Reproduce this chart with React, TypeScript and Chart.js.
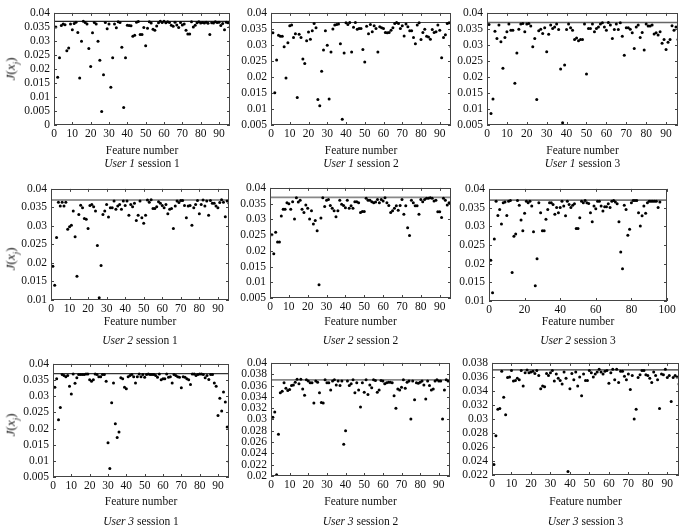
import React, { useEffect, useRef } from "react";
import { Chart, registerables } from "chart.js";

Chart.register(...registerables);

// ---------------- data ----------------
const thresholdJ = 0.037;

const user1Session1 = [
  0.0350, 0.0170, 0.0240, 0.0355, 0.0360, 0.0358, 0.0265, 0.0275, 0.0360, 0.0340,
  0.0362, 0.0367, 0.0330, 0.0168, 0.0299, 0.0370, 0.0366, 0.0360, 0.0273, 0.0209,
  0.0329, 0.0366, 0.0360, 0.0299, 0.0231, 0.0048, 0.0179, 0.0366, 0.0343, 0.0360,
  0.0135, 0.0240, 0.0360, 0.0347, 0.0368, 0.0366, 0.0277, 0.0062, 0.0240, 0.0356,
  0.0355, 0.0354, 0.0317, 0.0320, 0.0367, 0.0369, 0.0323, 0.0323, 0.0348, 0.0283,
  0.0345, 0.0368, 0.0364, 0.0342, 0.0338, 0.0353, 0.0365, 0.0370, 0.0366, 0.0370,
  0.0365, 0.0368, 0.0366, 0.0356, 0.0352, 0.0367, 0.0357, 0.0348, 0.0366, 0.0357,
  0.0360, 0.0338, 0.0325, 0.0325, 0.0368, 0.0350, 0.0356, 0.0365, 0.0368, 0.0364,
  0.0366, 0.0364, 0.0367, 0.0363, 0.0323, 0.0365, 0.0364, 0.0368, 0.0366, 0.0367,
  0.0355, 0.0362, 0.0340, 0.0367, 0.0365, 0.0350,
];

const user1Session2 = [
  0.0338, 0.0151, 0.0253, 0.0330, 0.0327, 0.0327, 0.0294, 0.0197, 0.0307, 0.0360,
  0.0362, 0.0323, 0.0335, 0.0136, 0.0333, 0.0323, 0.0256, 0.0242, 0.0313, 0.0340,
  0.0318, 0.0344, 0.0367, 0.0354, 0.0130, 0.0110, 0.0218, 0.0284, 0.0344, 0.0299,
  0.0131, 0.0278, 0.0350, 0.0362, 0.0364, 0.0365, 0.0304, 0.0068, 0.0275, 0.0369,
  0.0364, 0.0370, 0.0278, 0.0355, 0.0370, 0.0349, 0.0351, 0.0351, 0.0286, 0.0247,
  0.0358, 0.0335, 0.0364, 0.0341, 0.0360, 0.0351, 0.0278, 0.0357, 0.0354, 0.0351,
  0.0339, 0.0338, 0.0339, 0.0346, 0.0354, 0.0367, 0.0370, 0.0367, 0.0351, 0.0360,
  0.0328, 0.0365, 0.0357, 0.0344, 0.0344, 0.0323, 0.0304, 0.0362, 0.0369, 0.0317,
  0.0339, 0.0349, 0.0327, 0.0325, 0.0318, 0.0348, 0.0339, 0.0341, 0.0362, 0.0346,
  0.0260, 0.0323, 0.0332, 0.0367, 0.0369, 0.0294,
];

const user1Session3 = [
  0.0364, 0.0086, 0.0131, 0.0343, 0.0320, 0.0362, 0.0310, 0.0227, 0.0323, 0.0341,
  0.0365, 0.0346, 0.0346, 0.0180, 0.0275, 0.0349, 0.0365, 0.0367, 0.0341, 0.0365,
  0.0367, 0.0359, 0.0294, 0.0320, 0.0130, 0.0344, 0.0349, 0.0336, 0.0354, 0.0279,
  0.0333, 0.0362, 0.0351, 0.0356, 0.0365, 0.0348, 0.0225, 0.0057, 0.0237, 0.0348,
  0.0365, 0.0354, 0.0346, 0.0317, 0.0322, 0.0313, 0.0317, 0.0317, 0.0365, 0.0209,
  0.0351, 0.0351, 0.0365, 0.0341, 0.0351, 0.0356, 0.0365, 0.0369, 0.0356, 0.0346,
  0.0370, 0.0362, 0.0320, 0.0348, 0.0365, 0.0348, 0.0369, 0.0327, 0.0268, 0.0354,
  0.0354, 0.0349, 0.0338, 0.0289, 0.0356, 0.0362, 0.0323, 0.0339, 0.0284, 0.0365,
  0.0359, 0.0359, 0.0362, 0.0334, 0.0338, 0.0331, 0.0341, 0.0305, 0.0317, 0.0286,
  0.0308, 0.0317, 0.0360, 0.0346, 0.0356, 0.0317,
];

const user2Session1 = [
  0.0191, 0.0140, 0.0269, 0.0364, 0.0354, 0.0364, 0.0354, 0.0364, 0.0291, 0.0298,
  0.0302, 0.0340, 0.0271, 0.0164, 0.0331, 0.0356, 0.0349, 0.0320, 0.0318, 0.0293,
  0.0355, 0.0358, 0.0352, 0.0340, 0.0247, 0.0106, 0.0193, 0.0331, 0.0340, 0.0358,
  0.0324, 0.0349, 0.0349, 0.0367, 0.0345, 0.0354, 0.0358, 0.0345, 0.0367, 0.0355,
  0.0367, 0.0329, 0.0358, 0.0352, 0.0361, 0.0315, 0.0329, 0.0367, 0.0322, 0.0307,
  0.0329, 0.0370, 0.0364, 0.0371, 0.0347, 0.0347, 0.0352, 0.0365, 0.0361, 0.0355,
  0.0349, 0.0358, 0.0333, 0.0345, 0.0347, 0.0293, 0.0354, 0.0367, 0.0363, 0.0369,
  0.0369, 0.0355, 0.0322, 0.0354, 0.0355, 0.0302, 0.0349, 0.0358, 0.0369, 0.0333,
  0.0358, 0.0370, 0.0354, 0.0367, 0.0329, 0.0369, 0.0361, 0.0361, 0.0354, 0.0349,
  0.0363, 0.0371, 0.0364, 0.0325, 0.0367, 0.0361,
];

const user2Session2 = [
  0.0251, 0.0191, 0.0259, 0.0228, 0.0228, 0.0311, 0.0332, 0.0332, 0.0353, 0.0350,
  0.0332, 0.0356, 0.0301, 0.0369, 0.0355, 0.0361, 0.0332, 0.0322, 0.0346, 0.0335,
  0.0301, 0.0327, 0.0285, 0.0296, 0.0264, 0.0092, 0.0304, 0.0369, 0.0341, 0.0361,
  0.0363, 0.0344, 0.0335, 0.0327, 0.0308, 0.0327, 0.0361, 0.0348, 0.0344, 0.0337,
  0.0361, 0.0335, 0.0343, 0.0335, 0.0356, 0.0356, 0.0353, 0.0322, 0.0325, 0.0325,
  0.0367, 0.0361, 0.0361, 0.0356, 0.0353, 0.0355, 0.0363, 0.0353, 0.0363, 0.0358,
  0.0369, 0.0353, 0.0344, 0.0322, 0.0327, 0.0335, 0.0343, 0.0329, 0.0344, 0.0363,
  0.0316, 0.0343, 0.0273, 0.0249, 0.0361, 0.0353, 0.0343, 0.0343, 0.0316, 0.0363,
  0.0356, 0.0363, 0.0367, 0.0367, 0.0369, 0.0367, 0.0358, 0.0361, 0.0324, 0.0324,
  0.0306, 0.0367, 0.0361, 0.0346, 0.0353, 0.0353,
];

const user2Session3 = [
  0.0209, 0.0122, 0.0266, 0.0367, 0.0329, 0.0345, 0.0306, 0.0363, 0.0365, 0.0329,
  0.0367, 0.0369, 0.0176, 0.0273, 0.0279, 0.0369, 0.0356, 0.0317, 0.0288, 0.0335,
  0.0367, 0.0363, 0.0367, 0.0354, 0.0285, 0.0141, 0.0213, 0.0363, 0.0336, 0.0288,
  0.0288, 0.0319, 0.0345, 0.0363, 0.0363, 0.0358, 0.0332, 0.0350, 0.0336, 0.0350,
  0.0367, 0.0354, 0.0328, 0.0367, 0.0358, 0.0350, 0.0356, 0.0360, 0.0294, 0.0294,
  0.0323, 0.0367, 0.0363, 0.0369, 0.0363, 0.0361, 0.0336, 0.0312, 0.0354, 0.0347,
  0.0367, 0.0367, 0.0354, 0.0341, 0.0352, 0.0352, 0.0360, 0.0350, 0.0367, 0.0369,
  0.0365, 0.0360, 0.0312, 0.0231, 0.0186, 0.0356, 0.0345, 0.0276, 0.0292, 0.0363,
  0.0369, 0.0369, 0.0369, 0.0336, 0.0301, 0.0328, 0.0354, 0.0335, 0.0363, 0.0367,
  0.0367, 0.0367, 0.0367, 0.0367, 0.0350, 0.0365,
];

const user3Session1 = [
  0.0328, 0.0354, 0.0227, 0.0265, 0.0367, 0.0364, 0.0360, 0.0364, 0.0331, 0.0307,
  0.0369, 0.0340, 0.0357, 0.0367, 0.0367, 0.0367, 0.0367, 0.0369, 0.0369, 0.0351,
  0.0346, 0.0351, 0.0369, 0.0367, 0.0360, 0.0360, 0.0367, 0.0367, 0.0346, 0.0156,
  0.0076, 0.0280, 0.0341, 0.0215, 0.0172, 0.0189, 0.0357, 0.0354, 0.0328, 0.0323,
  0.0360, 0.0364, 0.0367, 0.0360, 0.0341, 0.0360, 0.0369, 0.0360, 0.0367, 0.0359,
  0.0367, 0.0369, 0.0367, 0.0367, 0.0367, 0.0364, 0.0359, 0.0369, 0.0351, 0.0354,
  0.0354, 0.0369, 0.0359, 0.0360, 0.0341, 0.0367, 0.0364, 0.0360, 0.0359, 0.0326,
  0.0360, 0.0359, 0.0354, 0.0351, 0.0336, 0.0369, 0.0369, 0.0364, 0.0367, 0.0369,
  0.0369, 0.0367, 0.0357, 0.0364, 0.0352, 0.0367, 0.0367, 0.0341, 0.0331, 0.0240,
  0.0294, 0.0254, 0.0313, 0.0282, 0.0205, 0.0098,
];

const user3Session2 = [
  0.0304, 0.0313, 0.0202, 0.0274, 0.0347, 0.0350, 0.0365, 0.0355, 0.0351, 0.0353,
  0.0360, 0.0361, 0.0366, 0.0371, 0.0363, 0.0371, 0.0354, 0.0343, 0.0370, 0.0368,
  0.0365, 0.0365, 0.0329, 0.0368, 0.0366, 0.0347, 0.0330, 0.0329, 0.0370, 0.0365,
  0.0365, 0.0352, 0.0368, 0.0370, 0.0361, 0.0368, 0.0360, 0.0368, 0.0256, 0.0280,
  0.0368, 0.0360, 0.0363, 0.0370, 0.0347, 0.0365, 0.0352, 0.0322, 0.0365, 0.0348,
  0.0370, 0.0344, 0.0361, 0.0356, 0.0370, 0.0369, 0.0348, 0.0352, 0.0369, 0.0368,
  0.0363, 0.0365, 0.0366, 0.0366, 0.0365, 0.0342, 0.0320, 0.0354, 0.0352, 0.0357,
  0.0370, 0.0355, 0.0366, 0.0368, 0.0301, 0.0368, 0.0335, 0.0365, 0.0364, 0.0366,
  0.0368, 0.0361, 0.0336, 0.0368, 0.0360, 0.0352, 0.0354, 0.0368, 0.0370, 0.0368,
  0.0368, 0.0301, 0.0352, 0.0370, 0.0368, 0.0368,
];

const user3Session3 = [
  0.0235, 0.0276, 0.0314, 0.0315, 0.0368, 0.0331, 0.0306, 0.0359, 0.0360, 0.0369,
  0.0354, 0.0355, 0.0358, 0.0356, 0.0369, 0.0347, 0.0366, 0.0370, 0.0366, 0.0367,
  0.0368, 0.0365, 0.0369, 0.0362, 0.0343, 0.0347, 0.0346, 0.0365, 0.0362, 0.0366,
  0.0369, 0.0354, 0.0364, 0.0358, 0.0355, 0.0350, 0.0367, 0.0358, 0.0225, 0.0343,
  0.0365, 0.0356, 0.0367, 0.0347, 0.0360, 0.0333, 0.0364, 0.0355, 0.0355, 0.0369,
  0.0366, 0.0360, 0.0364, 0.0367, 0.0371, 0.0367, 0.0364, 0.0368, 0.0369, 0.0351,
  0.0366, 0.0371, 0.0356, 0.0371, 0.0352, 0.0368, 0.0368, 0.0361, 0.0356, 0.0364,
  0.0342, 0.0362, 0.0300, 0.0314, 0.0359, 0.0363, 0.0369, 0.0369, 0.0363, 0.0362,
  0.0358, 0.0352, 0.0367, 0.0362, 0.0356, 0.0315, 0.0364, 0.0363, 0.0371, 0.0359,
  0.0362, 0.0325, 0.0359, 0.0362, 0.0360, 0.0350,
];

// tick labels
const xTicks90 = [0, 10, 20, 30, 40, 50, 60, 70, 80, 90];
const xTicks100 = [0, 20, 40, 60, 80, 100];
const yTicks0to04 = [0, 0.005, 0.01, 0.015, 0.02, 0.025, 0.03, 0.035, 0.04];
const yTicks005to04 = [0.005, 0.01, 0.015, 0.02, 0.025, 0.03, 0.035, 0.04];
const yTicks01to04 = [0.01, 0.015, 0.02, 0.025, 0.03, 0.035, 0.04];
const yTicks02to04 = [0.02, 0.022, 0.024, 0.026, 0.028, 0.03, 0.032, 0.034, 0.036, 0.038, 0.04];
const yTicks022to038 = [0.022, 0.024, 0.026, 0.028, 0.03, 0.032, 0.034, 0.036, 0.038];

// ---------------- layout ----------------
const FONT = "'Liberation Serif', 'Times New Roman', serif";
const Y_AXIS_W = 50;
const X_AXIS_H = 20;
const PAD_T = 10;
const PAD_R = 14;

type Panel = {
  values: number[];
  xMax: number;
  xTicks: number[];
  yTicks: number[];
  lineColor: string;
  lineWidth: number;
  l: number; t: number; r: number; b: number;
  user: string;
  session: string;
  featY: number;
  capY: number;
  yTitleY?: number;
};

const panels: Panel[] = [
  { values: user1Session1, xMax: 96, xTicks: xTicks90, yTicks: yTicks0to04, lineColor: "#222", lineWidth: 1.2,
    l: 54, t: 12, r: 230, b: 125, user: "User 1", session: "session 1", featY: 151, capY: 164, yTitleY: 69 },
  { values: user1Session2, xMax: 96, xTicks: xTicks90, yTicks: yTicks005to04, lineColor: "#444", lineWidth: 1.2,
    l: 271, t: 12, r: 451, b: 125, user: "User 1", session: "session 2", featY: 151, capY: 164 },
  { values: user1Session3, xMax: 96, xTicks: xTicks90, yTicks: yTicks005to04, lineColor: "#666", lineWidth: 1.3,
    l: 487, t: 12, r: 678, b: 125, user: "User 1", session: "session 3", featY: 151, capY: 164 },
  { values: user2Session1, xMax: 96, xTicks: xTicks90, yTicks: yTicks01to04, lineColor: "#777", lineWidth: 1.6,
    l: 51, t: 188, r: 229, b: 300, user: "User 2", session: "session 1", featY: 322, capY: 341, yTitleY: 259 },
  { values: user2Session2, xMax: 96, xTicks: xTicks90, yTicks: yTicks005to04, lineColor: "#888", lineWidth: 1.8,
    l: 270, t: 187, r: 451, b: 298, user: "User 2", session: "session 2", featY: 322, capY: 341 },
  { values: user2Session3, xMax: 100, xTicks: xTicks100, yTicks: yTicks01to04, lineColor: "#777", lineWidth: 1.8,
    l: 489, t: 188, r: 667, b: 301, user: "User 2", session: "session 3", featY: 322, capY: 341 },
  { values: user3Session1, xMax: 96, xTicks: xTicks90, yTicks: yTicks005to04, lineColor: "#333", lineWidth: 1.2,
    l: 53, t: 363, r: 229, b: 477, user: "User 3", session: "session 1", featY: 502, capY: 522, yTitleY: 425 },
  { values: user3Session2, xMax: 96, xTicks: xTicks90, yTicks: yTicks02to04, lineColor: "#888", lineWidth: 1.6,
    l: 271, t: 362, r: 450, b: 476, user: "User 3", session: "session 2", featY: 502, capY: 522 },
  { values: user3Session3, xMax: 96, xTicks: xTicks90, yTicks: yTicks022to038, lineColor: "#333", lineWidth: 1.2,
    l: 492, t: 362, r: 679, b: 475, user: "User 3", session: "session 3", featY: 502, capY: 522 },
];

const fmt = (v: number) => String(parseFloat(v.toFixed(4)));

const framePlugin = {
  id: "frameTicks",
  afterDatasetsDraw(chart: any) {
    const { ctx, chartArea, scales } = chart;
    const { left, top, right, bottom } = chartArea;
    ctx.save();
    ctx.strokeStyle = "#444";
    ctx.lineWidth = 1;
    ctx.strokeRect(Math.round(left) + 0.5, Math.round(top) + 0.5, Math.round(right - left) - 1, Math.round(bottom - top) - 1);
    ctx.beginPath();
    const L = 3;
    scales.x.ticks.forEach((t: any) => {
      const px = Math.round(scales.x.getPixelForValue(t.value)) + 0.5;
      ctx.moveTo(px, bottom);
      ctx.lineTo(px, bottom - L);
      ctx.moveTo(px, top);
      ctx.lineTo(px, top + L);
    });
    scales.y.ticks.forEach((t: any) => {
      const py = Math.round(scales.y.getPixelForValue(t.value)) + 0.5;
      ctx.moveTo(left, py);
      ctx.lineTo(left + L, py);
      ctx.moveTo(right, py);
      ctx.lineTo(right - L, py);
    });
    ctx.stroke();
    ctx.restore();
  },
};

function PanelChart({ p }: { p: Panel }) {
  const ref = useRef<HTMLCanvasElement | null>(null);
  const w = p.r - p.l + Y_AXIS_W + PAD_R;
  const h = p.b - p.t + PAD_T + X_AXIS_H;

  useEffect(() => {
    if (!ref.current) return;
    const yMin = p.yTicks[0];
    const yMax = p.yTicks[p.yTicks.length - 1];
    const tickFont = { family: FONT, size: 11.5 };
    const chart = new Chart(ref.current, {
      type: "scatter",
      data: {
        datasets: [
          {
            type: "scatter",
            data: p.values.map((v, i) => ({ x: i + 1, y: v })),
            pointRadius: 1.5,
            pointBackgroundColor: "#000",
            pointBorderWidth: 0,
            pointHoverRadius: 1.5,
          },
          {
            type: "line",
            data: [
              { x: 0, y: thresholdJ },
              { x: p.xMax, y: thresholdJ },
            ],
            borderColor: p.lineColor,
            borderWidth: p.lineWidth,
            pointRadius: 0,
            fill: false,
          } as any,
        ],
      },
      options: {
        animation: false,
        responsive: false,
        maintainAspectRatio: false,
        devicePixelRatio: 1,
        events: [],
        layout: { padding: { left: 0, top: PAD_T, right: PAD_R, bottom: 0 } },
        plugins: { legend: { display: false }, tooltip: { enabled: false } },
        scales: {
          x: {
            type: "linear",
            min: 0,
            max: p.xMax,
            grid: { display: false, drawTicks: false },
            border: { display: false },
            afterBuildTicks: (s: any) => {
              s.ticks = p.xTicks.map((v) => ({ value: v }));
            },
            afterFit: (s: any) => {
              s.height = X_AXIS_H;
            },
            ticks: { font: tickFont, color: "#111", padding: 2, maxRotation: 0, autoSkip: false, callback: (v: any) => fmt(Number(v)) },
          },
          y: {
            type: "linear",
            min: yMin,
            max: yMax,
            grid: { display: false, drawTicks: false },
            border: { display: false },
            afterBuildTicks: (s: any) => {
              s.ticks = p.yTicks.map((v) => ({ value: v }));
            },
            afterFit: (s: any) => {
              s.width = Y_AXIS_W;
            },
            ticks: { font: tickFont, color: "#111", padding: 4, autoSkip: false, callback: (v: any) => fmt(Number(v)) },
          },
        },
      } as any,
      plugins: [framePlugin],
    });
    return () => chart.destroy();
  }, [p]);

  return (
    <canvas
      ref={ref}
      width={w}
      height={h}
      style={{ position: "absolute", left: p.l - Y_AXIS_W, top: p.t - PAD_T, width: w, height: h }}
    />
  );
}

const textBase: React.CSSProperties = {
  position: "absolute",
  fontFamily: FONT,
  fontSize: 11.5,
  color: "#111",
  whiteSpace: "nowrap",
  lineHeight: 1,
  transform: "translate(-50%, -50%)",
};

export default function App() {
  return (
    <div style={{ position: "absolute", left: 0, top: 0, width: 680, height: 529, background: "#fff", overflow: "hidden" }}>
      {panels.map((p, i) => (
        <React.Fragment key={i}>
          <PanelChart p={p} />
          <div style={{ ...textBase, left: (p.l + p.r) / 2, top: p.featY }}>Feature number</div>
          <div style={{ ...textBase, left: (p.l + p.r) / 2, top: p.capY }}>
            <i>{p.user}</i> {p.session}
          </div>
          {p.yTitleY !== undefined && (
            <div
              style={{
                ...textBase,
                fontSize: 13,
                left: 12,
                top: p.yTitleY,
                transform: "translate(-50%, -50%) rotate(-90deg)",
              }}
            >
              <i>J</i>(<i>x</i>
              <sub style={{ fontSize: 9, fontStyle: "italic" }}>j</sub>)
            </div>
          )}
        </React.Fragment>
      ))}
    </div>
  );
}
